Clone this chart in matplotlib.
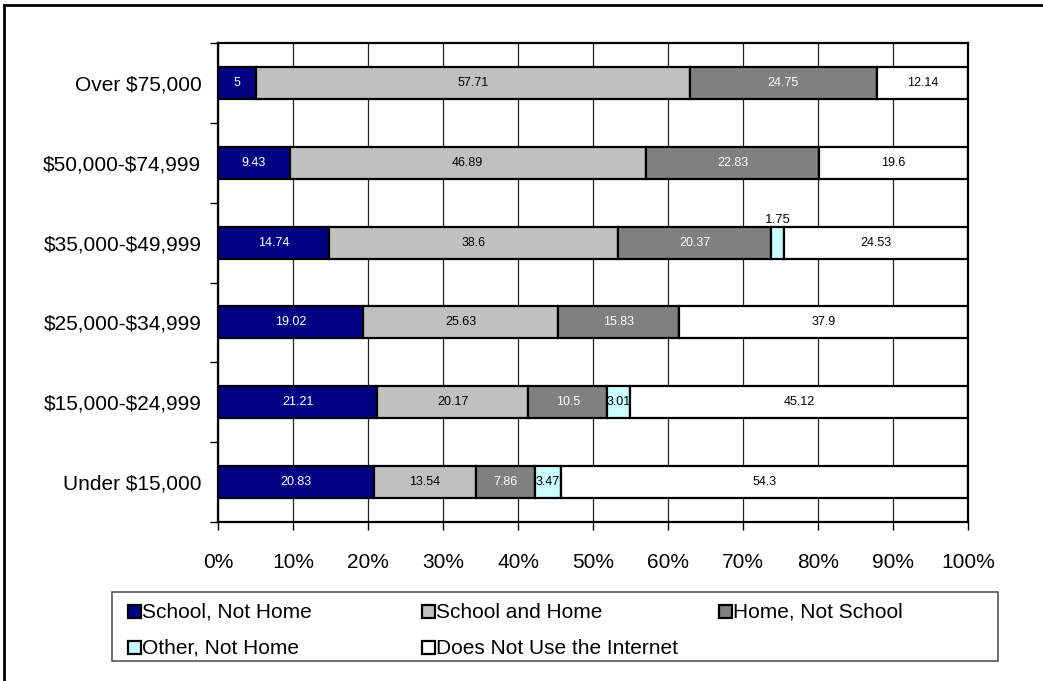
import numpy as np
import matplotlib
matplotlib.use("Agg")
import matplotlib.pyplot as plt
from matplotlib.patches import Rectangle
from matplotlib.lines import Line2D

plt.rcParams['font.family'] = ['Liberation Sans', 'DejaVu Sans']

# data, bottom row first
incomes = ['Under $15,000', '$15,000-$24,999', '$25,000-$34,999',
           '$35,000-$49,999', '$50,000-$74,999', 'Over $75,000']
school_not_home = [20.83, 21.21, 19.02, 14.74, 9.43, 5]
school_and_home = [13.54, 20.17, 25.63, 38.6, 46.89, 57.71]
home_not_school = [7.86, 10.5, 15.83, 20.37, 22.83, 24.75]
other_not_home = [3.47, 3.01, 0, 1.75, 0, 0]
no_internet = [54.3, 45.12, 37.9, 24.53, 19.6, 12.14]

series = [
    ('School, Not Home', school_not_home, '#000080', 'white'),
    ('School and Home', school_and_home, '#C0C0C0', 'black'),
    ('Home, Not School', home_not_school, '#808080', 'white'),
    ('Other, Not Home', other_not_home, '#CCFFFF', 'black'),
    ('Does Not Use the Internet', no_internet, '#FFFFFF', 'black'),
]

W, H = 1043, 681
fig = plt.figure(figsize=(W / 100, H / 100), dpi=100)
ax = fig.add_axes([218 / W, 1 - 522 / H, 750 / W, 479 / H])

y = np.arange(len(incomes))
total = np.sum([s[1] for s in series], axis=0)
left = np.zeros(len(incomes))
bar_h = 0.4
for name, vals, col, tcol in series:
    vals = np.array(vals, dtype=float)
    pct = vals / total * 100
    ax.barh(y, pct, left=left, height=bar_h, color=col, edgecolor='black',
            linewidth=1.6, zorder=3)
    for i in range(len(y)):
        if vals[i] == 0:
            continue
        lab = f'{vals[i]:g}'
        cx = left[i] + pct[i] / 2
        if pct[i] < 2.5:
            ax.text(cx, y[i] + bar_h / 2 + 0.01, lab, ha='center', va='bottom',
                    fontsize=9.5, color='black', zorder=5)
        else:
            ax.text(cx, y[i], lab, ha='center', va='center', fontsize=9,
                    color=tcol, zorder=5)
    left += pct

ax.set_xlim(0, 100)
ax.set_ylim(-0.5, len(incomes) - 0.5)
ax.set_xticks(np.arange(0, 101, 10))
ax.set_xticklabels([f'{v}%' for v in range(0, 101, 10)], fontsize=15)
ax.set_yticks(y)
ax.set_yticklabels([s.replace('$', r'\$') for s in incomes], fontsize=15)
ax.set_yticks(np.arange(-0.5, len(incomes), 1), minor=True)
ax.tick_params(axis='y', which='major', length=0, pad=12)
ax.tick_params(axis='y', which='minor', length=6, width=1, direction='out')
ax.tick_params(axis='x', length=6, width=1, direction='out', pad=16)

ax.grid(axis='x', color='#222222', linewidth=0.9, zorder=0)
ax.set_axisbelow(True)
for sp in ax.spines.values():
    sp.set_linewidth(1.6)
    sp.set_zorder(4)

# legend drawn by hand so the columns sit on an even grid
fig.patches.append(Rectangle((112 / W, 1 - 661 / H), 886 / W, 69 / H,
                             transform=fig.transFigure, facecolor='white',
                             edgecolor='#555555', linewidth=1.2))
col_x = [128, 422, 719]
row_y = [612, 648]
for k, (name, vals, col, tcol) in enumerate(series):
    r, c = divmod(k, 3)
    mx, my = col_x[c], row_y[r]
    fig.patches.append(Rectangle((mx / W, 1 - (my + 6) / H), 13 / W, 13 / H,
                                 transform=fig.transFigure, facecolor=col,
                                 edgecolor='black', linewidth=1.6))
    fig.text((mx + 14) / W, 1 - my / H, name, fontsize=15, ha='left',
             va='center')

# outer frame of the chart object (top and left edges visible)
fig.lines.append(Line2D([4 / W, 1], [1 - 5 / H, 1 - 5 / H],
                        transform=fig.transFigure, color='black', linewidth=2))
fig.lines.append(Line2D([4 / W, 4 / W], [0, 1 - 5 / H],
                        transform=fig.transFigure, color='black', linewidth=2))

fig.savefig('out.png', dpi=100)
